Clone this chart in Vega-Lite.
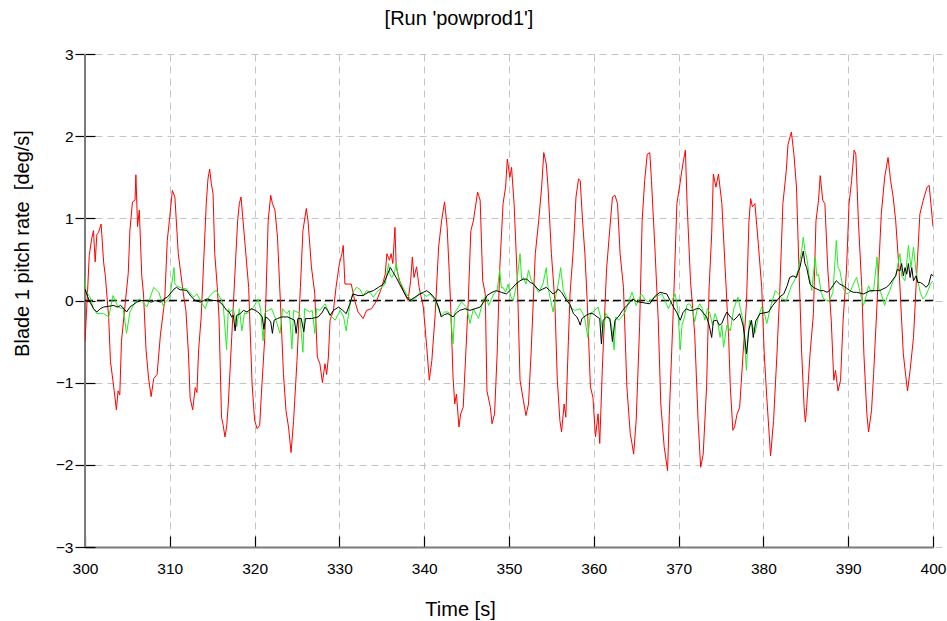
{
 "$schema": "https://vega.github.io/schema/vega-lite/v6.json",
 "width": 848, "height": 493,
 "autosize": "none",
 "padding": {"left": 85, "top": 54, "right": 14, "bottom": 74},
 "background": "white",
 "config": {
  "view": {"stroke": null},
  "font": "Liberation Sans",
  "axis": {"grid": true, "gridColor": "#c4c4c4", "gridDash": [7, 5], "gridWidth": 1,
   "labelFont": "Liberation Sans", "labelFontSize": 15.5, "labelColor": "black", "labelFlush": false,
   "titleFont": "Liberation Sans", "titleFontSize": 20, "titleFontWeight": "normal", "titleColor": "black",
   "tickColor": "black", "tickWidth": 1.2},
  "axisX": {"tickCount": 10, "tickSize": -11, "labelPadding": 25, "domainColor": "#7a7a7a", "domainWidth": 2,
   "titleX": 375, "titleY": 68, "titleAlign": "center", "titleBaseline": "alphabetic"},
  "axisY": {"tickCount": 6, "domain": false, "offset": -10, "tickSize": 20, "labelPadding": 2,
   "titleX": -67, "titleY": 189, "titleAngle": -90, "titleAlign": "center", "titleBaseline": "alphabetic"}
 },
 "title": {"text": "[Run 'powprod1']", "fontSize": 20, "fontWeight": "normal", "font": "Liberation Sans", "color": "black", "anchor": "middle", "frame": "group", "dx": -50, "baseline": "alphabetic", "offset": 2},
 "datasets": {
  "red": [
   {"t":300.0,"v":-0.5},{"t":300.3,"v":0.1},{"t":300.5,"v":0.55},{"t":300.8,"v":0.76},{"t":301.0,"v":0.85},{"t":301.2,"v":0.47},{"t":301.4,"v":0.8},{"t":301.6,"v":0.83},{"t":301.9,"v":0.93},{"t":302.2,"v":0.46},{"t":302.4,"v":0.3},{"t":302.8,"v":-0.22},{"t":303.0,"v":-0.74},{"t":303.3,"v":-0.98},{"t":303.5,"v":-1.15},{"t":303.7,"v":-1.33},{"t":303.9,"v":-1.1},{"t":304.1,"v":-1.15},{"t":304.3,"v":-0.5},{"t":304.7,"v":-0.08},{"t":305.1,"v":0.33},{"t":305.3,"v":0.86},{"t":305.6,"v":1.2},{"t":305.9,"v":1.22},{"t":306.0,"v":1.53},{"t":306.2,"v":0.9},{"t":306.4,"v":1.1},{"t":306.7,"v":0.29},{"t":306.9,"v":0.08},{"t":307.2,"v":-0.6},{"t":307.5,"v":-0.95},{"t":307.8,"v":-1.17},{"t":308.1,"v":-0.95},{"t":308.5,"v":-0.9},{"t":308.9,"v":-0.41},{"t":309.4,"v":0.0},{"t":309.7,"v":0.73},{"t":310.0,"v":1.02},{"t":310.3,"v":1.34},{"t":310.6,"v":1.26},{"t":311.0,"v":0.57},{"t":311.6,"v":0.08},{"t":311.9,"v":-0.12},{"t":312.2,"v":-0.65},{"t":312.4,"v":-1.19},{"t":312.7,"v":-1.33},{"t":313.0,"v":-1.06},{"t":313.2,"v":-1.12},{"t":313.4,"v":-0.6},{"t":313.7,"v":-0.2},{"t":313.95,"v":0.37},{"t":314.3,"v":1.18},{"t":314.5,"v":1.48},{"t":314.7,"v":1.6},{"t":314.9,"v":1.42},{"t":315.1,"v":1.3},{"t":315.3,"v":0.57},{"t":315.6,"v":0.16},{"t":315.8,"v":-0.2},{"t":316.1,"v":-1.42},{"t":316.3,"v":-1.52},{"t":316.5,"v":-1.66},{"t":316.7,"v":-1.54},{"t":316.9,"v":-1.26},{"t":317.3,"v":-0.45},{"t":317.7,"v":0.37},{"t":318.0,"v":0.97},{"t":318.2,"v":1.18},{"t":318.4,"v":1.26},{"t":318.9,"v":0.65},{"t":319.3,"v":0.16},{"t":319.7,"v":-1.01},{"t":320.0,"v":-1.46},{"t":320.3,"v":-1.56},{"t":320.6,"v":-1.52},{"t":320.8,"v":-1.14},{"t":321.2,"v":-0.45},{"t":321.6,"v":0.97},{"t":321.9,"v":1.28},{"t":322.1,"v":1.18},{"t":322.4,"v":1.1},{"t":322.7,"v":0.77},{"t":323.0,"v":0.08},{"t":323.4,"v":-0.89},{"t":323.7,"v":-1.34},{"t":324.0,"v":-1.54},{"t":324.3,"v":-1.85},{"t":324.6,"v":-1.46},{"t":325.0,"v":-0.73},{"t":325.4,"v":0.16},{"t":325.7,"v":0.85},{"t":326.1,"v":1.12},{"t":326.3,"v":0.97},{"t":326.7,"v":0.41},{"t":327.1,"v":0.08},{"t":327.4,"v":-0.69},{"t":327.7,"v":-0.77},{"t":328.0,"v":-1.0},{"t":328.3,"v":-0.77},{"t":328.5,"v":-0.9},{"t":328.7,"v":-0.69},{"t":328.9,"v":-0.24},{"t":329.3,"v":-0.12},{"t":329.6,"v":0.16},{"t":330.0,"v":0.45},{"t":330.3,"v":0.57},{"t":330.45,"v":0.67},{"t":330.65,"v":0.2},{"t":331.4,"v":0.2},{"t":331.8,"v":0.0},{"t":332.2,"v":-0.14},{"t":332.8,"v":-0.22},{"t":333.2,"v":-0.12},{"t":333.8,"v":-0.1},{"t":334.4,"v":0.0},{"t":335.0,"v":0.16},{"t":335.4,"v":0.32},{"t":335.6,"v":0.57},{"t":335.9,"v":0.49},{"t":336.1,"v":0.57},{"t":336.3,"v":0.45},{"t":336.55,"v":0.89},{"t":336.7,"v":0.41},{"t":337.1,"v":0.24},{"t":337.7,"v":0.08},{"t":338.1,"v":0.0},{"t":338.4,"v":0.24},{"t":338.6,"v":0.53},{"t":338.8,"v":0.28},{"t":339.1,"v":0.41},{"t":339.4,"v":0.16},{"t":339.9,"v":-0.08},{"t":340.3,"v":-0.57},{"t":340.6,"v":-0.97},{"t":340.9,"v":-0.73},{"t":341.3,"v":-0.16},{"t":341.7,"v":0.65},{"t":342.05,"v":0.97},{"t":342.4,"v":1.2},{"t":342.7,"v":0.9},{"t":342.95,"v":0.35},{"t":343.1,"v":0.0},{"t":343.4,"v":-0.93},{"t":343.6,"v":-1.26},{"t":343.8,"v":-1.14},{"t":344.1,"v":-1.54},{"t":344.3,"v":-1.38},{"t":344.6,"v":-1.3},{"t":344.9,"v":-0.65},{"t":345.2,"v":0.0},{"t":345.5,"v":0.85},{"t":345.8,"v":0.97},{"t":346.3,"v":1.32},{"t":346.6,"v":1.22},{"t":346.9,"v":0.24},{"t":347.2,"v":0.08},{"t":347.4,"v":-1.1},{"t":347.8,"v":-1.3},{"t":348.0,"v":-1.5},{"t":348.3,"v":-1.38},{"t":348.6,"v":-0.65},{"t":348.9,"v":0.37},{"t":349.3,"v":1.18},{"t":349.6,"v":1.38},{"t":349.8,"v":1.72},{"t":350.1,"v":1.5},{"t":350.3,"v":1.62},{"t":350.6,"v":1.18},{"t":351.0,"v":0.2},{"t":351.3,"v":-0.97},{"t":351.7,"v":-1.22},{"t":352.0,"v":-1.4},{"t":352.3,"v":-1.26},{"t":352.6,"v":-0.65},{"t":353.1,"v":0.57},{"t":353.5,"v":0.97},{"t":353.85,"v":1.38},{"t":354.1,"v":1.8},{"t":354.4,"v":1.66},{"t":354.6,"v":1.38},{"t":355.0,"v":0.57},{"t":355.4,"v":0.0},{"t":355.7,"v":-0.97},{"t":356.0,"v":-1.46},{"t":356.2,"v":-1.6},{"t":356.5,"v":-1.26},{"t":356.7,"v":-1.42},{"t":357.0,"v":-0.5},{"t":357.2,"v":0.08},{"t":357.6,"v":0.65},{"t":357.9,"v":1.26},{"t":358.2,"v":1.48},{"t":358.4,"v":1.46},{"t":358.7,"v":0.93},{"t":358.95,"v":0.57},{"t":359.2,"v":0.04},{"t":359.6,"v":-1.05},{"t":359.9,"v":-1.18},{"t":360.2,"v":-1.66},{"t":360.5,"v":-1.38},{"t":360.7,"v":-1.74},{"t":361.0,"v":-0.85},{"t":361.5,"v":0.37},{"t":361.9,"v":0.89},{"t":362.2,"v":1.26},{"t":362.5,"v":1.28},{"t":362.8,"v":1.18},{"t":363.1,"v":0.57},{"t":363.5,"v":0.16},{"t":363.9,"v":-1.05},{"t":364.3,"v":-1.62},{"t":364.5,"v":-1.74},{"t":364.7,"v":-1.87},{"t":365.0,"v":-1.46},{"t":365.4,"v":-0.32},{"t":365.7,"v":0.97},{"t":366.0,"v":1.46},{"t":366.3,"v":1.78},{"t":366.6,"v":1.8},{"t":366.8,"v":1.46},{"t":367.2,"v":0.65},{"t":367.6,"v":-0.24},{"t":367.9,"v":-1.26},{"t":368.3,"v":-1.78},{"t":368.7,"v":-2.07},{"t":368.9,"v":-1.4},{"t":369.4,"v":-0.04},{"t":369.8,"v":1.18},{"t":370.1,"v":1.38},{"t":370.5,"v":1.66},{"t":370.8,"v":1.83},{"t":371.0,"v":1.18},{"t":371.4,"v":0.24},{"t":371.9,"v":-0.41},{"t":372.3,"v":-1.46},{"t":372.6,"v":-2.03},{"t":372.9,"v":-1.87},{"t":373.3,"v":-1.05},{"t":373.6,"v":0.16},{"t":373.9,"v":0.81},{"t":374.1,"v":1.54},{"t":374.4,"v":1.38},{"t":374.7,"v":1.54},{"t":375.1,"v":1.18},{"t":375.5,"v":0.37},{"t":375.9,"v":-0.45},{"t":376.1,"v":-1.05},{"t":376.4,"v":-1.58},{"t":376.6,"v":-1.54},{"t":376.9,"v":-1.38},{"t":377.2,"v":-1.3},{"t":377.6,"v":-0.65},{"t":378.0,"v":-0.04},{"t":378.3,"v":0.97},{"t":378.5,"v":1.24},{"t":378.7,"v":1.14},{"t":379.0,"v":1.18},{"t":379.4,"v":0.69},{"t":379.8,"v":0.16},{"t":380.1,"v":-0.65},{"t":380.4,"v":-1.18},{"t":380.7,"v":-1.66},{"t":380.85,"v":-1.89},{"t":381.2,"v":-1.46},{"t":381.6,"v":-0.65},{"t":381.95,"v":0.16},{"t":382.3,"v":1.18},{"t":382.7,"v":1.58},{"t":382.9,"v":1.9},{"t":383.3,"v":2.05},{"t":383.6,"v":1.78},{"t":383.9,"v":1.38},{"t":384.2,"v":0.37},{"t":384.5,"v":-0.6},{"t":384.8,"v":-1.3},{"t":384.95,"v":-1.48},{"t":385.1,"v":-1.3},{"t":385.5,"v":-0.65},{"t":385.9,"v":-0.16},{"t":386.2,"v":0.97},{"t":386.5,"v":1.22},{"t":386.7,"v":1.52},{"t":387.0,"v":1.22},{"t":387.25,"v":1.18},{"t":387.6,"v":0.37},{"t":388.0,"v":-0.24},{"t":388.3,"v":-0.97},{"t":388.5,"v":-0.85},{"t":388.8,"v":-1.1},{"t":389.1,"v":-0.97},{"t":389.4,"v":-0.24},{"t":389.8,"v":0.37},{"t":390.1,"v":1.18},{"t":390.4,"v":1.46},{"t":390.7,"v":1.83},{"t":390.9,"v":1.78},{"t":391.2,"v":0.97},{"t":391.6,"v":0.16},{"t":391.85,"v":-0.65},{"t":392.2,"v":-1.38},{"t":392.4,"v":-1.6},{"t":392.75,"v":-1.34},{"t":393.0,"v":-0.89},{"t":393.4,"v":-0.04},{"t":393.9,"v":1.05},{"t":394.3,"v":1.5},{"t":394.7,"v":1.74},{"t":395.0,"v":1.46},{"t":395.3,"v":1.26},{"t":395.6,"v":0.97},{"t":396.0,"v":0.37},{"t":396.5,"v":-0.65},{"t":396.8,"v":-0.93},{"t":397.0,"v":-1.1},{"t":397.3,"v":-0.85},{"t":397.7,"v":-0.45},{"t":398.1,"v":0.37},{"t":398.45,"v":1.05},{"t":398.85,"v":1.22},{"t":399.3,"v":1.38},{"t":399.55,"v":1.4},{"t":399.75,"v":1.18},{"t":400.0,"v":0.9}
  ],
  "green": [
   {"t":300.0,"v":0.3},{"t":300.1,"v":0.12},{"t":300.6,"v":0.04},{"t":301.0,"v":-0.1},{"t":301.4,"v":-0.16},{"t":302.2,"v":-0.16},{"t":302.8,"v":-0.2},{"t":303.3,"v":0.06},{"t":303.9,"v":-0.08},{"t":304.5,"v":-0.1},{"t":304.9,"v":-0.4},{"t":305.3,"v":-0.14},{"t":305.9,"v":-0.02},{"t":306.5,"v":0.02},{"t":307.3,"v":-0.08},{"t":308.1,"v":0.16},{"t":308.7,"v":0.1},{"t":309.2,"v":-0.06},{"t":310.0,"v":0.04},{"t":310.5,"v":0.4},{"t":310.6,"v":0.2},{"t":310.8,"v":0.18},{"t":311.4,"v":0.15},{"t":312.0,"v":0.14},{"t":312.8,"v":0.04},{"t":313.2,"v":0.08},{"t":313.6,"v":0.0},{"t":314.2,"v":-0.1},{"t":314.6,"v":0.04},{"t":315.1,"v":0.1},{"t":315.5,"v":0.12},{"t":315.9,"v":0.04},{"t":316.3,"v":-0.05},{"t":316.7,"v":-0.6},{"t":316.9,"v":-0.1},{"t":317.1,"v":-0.14},{"t":317.5,"v":-0.1},{"t":317.9,"v":-0.32},{"t":318.2,"v":-0.1},{"t":318.5,"v":-0.37},{"t":318.8,"v":-0.15},{"t":319.1,"v":-0.16},{"t":319.9,"v":-0.08},{"t":320.4,"v":0.02},{"t":320.7,"v":-0.1},{"t":321.0,"v":-0.49},{"t":321.2,"v":-0.15},{"t":321.6,"v":-0.12},{"t":322.0,"v":-0.1},{"t":322.4,"v":-0.2},{"t":323.0,"v":-0.4},{"t":323.3,"v":-0.1},{"t":323.8,"v":-0.16},{"t":324.1,"v":-0.12},{"t":324.4,"v":-0.59},{"t":324.6,"v":-0.12},{"t":325.0,"v":-0.14},{"t":325.3,"v":-0.15},{"t":325.7,"v":-0.63},{"t":325.9,"v":-0.1},{"t":326.5,"v":-0.14},{"t":326.8,"v":-0.12},{"t":327.1,"v":-0.4},{"t":327.3,"v":-0.1},{"t":327.7,"v":-0.12},{"t":328.3,"v":-0.04},{"t":328.9,"v":-0.18},{"t":329.5,"v":-0.24},{"t":330.1,"v":-0.12},{"t":330.5,"v":-0.2},{"t":330.8,"v":-0.37},{"t":331.2,"v":-0.08},{"t":331.6,"v":0.1},{"t":332.0,"v":0.16},{"t":332.4,"v":0.14},{"t":332.8,"v":0.06},{"t":333.2,"v":0.12},{"t":333.6,"v":0.1},{"t":334.0,"v":0.04},{"t":334.4,"v":0.1},{"t":334.8,"v":0.14},{"t":335.4,"v":0.2},{"t":335.8,"v":0.45},{"t":336.0,"v":0.3},{"t":336.2,"v":0.28},{"t":336.5,"v":0.35},{"t":336.7,"v":0.45},{"t":337.0,"v":0.25},{"t":337.3,"v":0.2},{"t":337.9,"v":0.08},{"t":338.5,"v":0.0},{"t":339.1,"v":0.04},{"t":339.5,"v":0.1},{"t":339.9,"v":0.08},{"t":340.3,"v":0.05},{"t":340.7,"v":0.08},{"t":341.3,"v":0.0},{"t":342.0,"v":-0.18},{"t":342.4,"v":-0.14},{"t":342.8,"v":-0.14},{"t":343.1,"v":-0.16},{"t":343.4,"v":-0.53},{"t":343.6,"v":-0.15},{"t":343.8,"v":-0.12},{"t":344.4,"v":-0.02},{"t":345.0,"v":-0.08},{"t":345.4,"v":-0.28},{"t":345.8,"v":-0.1},{"t":346.4,"v":-0.22},{"t":347.0,"v":0.02},{"t":347.3,"v":0.05},{"t":347.6,"v":-0.06},{"t":348.2,"v":0.08},{"t":348.6,"v":0.12},{"t":348.9,"v":0.37},{"t":349.1,"v":0.15},{"t":349.3,"v":0.16},{"t":349.6,"v":0.1},{"t":349.9,"v":0.2},{"t":350.2,"v":0.05},{"t":350.5,"v":0.0},{"t":350.9,"v":0.2},{"t":351.3,"v":0.57},{"t":351.5,"v":0.25},{"t":351.7,"v":0.28},{"t":352.0,"v":0.2},{"t":352.3,"v":0.37},{"t":352.6,"v":0.25},{"t":352.9,"v":0.2},{"t":353.5,"v":0.1},{"t":354.0,"v":0.2},{"t":354.4,"v":0.4},{"t":354.6,"v":0.16},{"t":355.2,"v":-0.14},{"t":355.5,"v":0.05},{"t":355.8,"v":0.2},{"t":356.1,"v":0.4},{"t":356.4,"v":0.12},{"t":357.0,"v":-0.02},{"t":357.4,"v":-0.1},{"t":357.8,"v":-0.12},{"t":358.4,"v":-0.1},{"t":358.9,"v":-0.2},{"t":359.3,"v":-0.45},{"t":359.6,"v":-0.15},{"t":359.9,"v":-0.14},{"t":360.5,"v":-0.08},{"t":360.8,"v":-0.2},{"t":361.1,"v":-0.4},{"t":361.4,"v":-0.15},{"t":361.7,"v":-0.2},{"t":362.1,"v":-0.3},{"t":362.4,"v":-0.6},{"t":362.6,"v":-0.2},{"t":362.9,"v":-0.24},{"t":363.3,"v":-0.2},{"t":363.7,"v":-0.14},{"t":364.1,"v":-0.02},{"t":364.5,"v":0.1},{"t":365.0,"v":-0.06},{"t":365.6,"v":0.08},{"t":366.0,"v":0.02},{"t":366.4,"v":-0.02},{"t":367.2,"v":0.04},{"t":368.0,"v":0.08},{"t":368.4,"v":0.0},{"t":368.8,"v":-0.1},{"t":369.2,"v":0.0},{"t":369.6,"v":0.08},{"t":369.9,"v":-0.1},{"t":370.2,"v":-0.6},{"t":370.4,"v":-0.3},{"t":370.7,"v":-0.2},{"t":371.0,"v":-0.05},{"t":371.3,"v":-0.04},{"t":371.6,"v":-0.1},{"t":371.9,"v":-0.26},{"t":372.2,"v":-0.1},{"t":372.5,"v":-0.04},{"t":372.8,"v":-0.1},{"t":373.1,"v":-0.24},{"t":373.4,"v":-0.1},{"t":373.7,"v":-0.16},{"t":374.0,"v":-0.3},{"t":374.3,"v":-0.16},{"t":374.6,"v":-0.25},{"t":374.9,"v":-0.45},{"t":375.1,"v":-0.3},{"t":375.3,"v":-0.57},{"t":375.7,"v":-0.3},{"t":376.1,"v":-0.37},{"t":376.5,"v":-0.1},{"t":377.0,"v":0.04},{"t":377.3,"v":-0.1},{"t":377.6,"v":-0.24},{"t":378.0,"v":-0.85},{"t":378.2,"v":-0.4},{"t":378.4,"v":-0.24},{"t":378.7,"v":-0.3},{"t":379.0,"v":-0.4},{"t":379.4,"v":-0.2},{"t":379.8,"v":-0.08},{"t":380.1,"v":-0.15},{"t":380.4,"v":-0.28},{"t":380.8,"v":-0.1},{"t":381.4,"v":0.12},{"t":381.8,"v":0.08},{"t":382.2,"v":0.02},{"t":382.7,"v":0.0},{"t":383.3,"v":0.18},{"t":383.7,"v":0.25},{"t":384.1,"v":0.37},{"t":384.5,"v":0.6},{"t":384.7,"v":0.77},{"t":384.9,"v":0.6},{"t":385.1,"v":0.53},{"t":385.4,"v":0.3},{"t":385.7,"v":0.12},{"t":386.1,"v":0.53},{"t":386.3,"v":0.3},{"t":386.5,"v":0.32},{"t":386.8,"v":0.1},{"t":387.1,"v":0.02},{"t":387.5,"v":0.0},{"t":387.8,"v":0.0},{"t":388.2,"v":0.1},{"t":388.6,"v":0.73},{"t":388.8,"v":0.4},{"t":389.0,"v":0.37},{"t":389.4,"v":0.15},{"t":389.8,"v":0.08},{"t":390.2,"v":0.1},{"t":390.6,"v":0.2},{"t":391.0,"v":0.28},{"t":391.4,"v":0.1},{"t":391.8,"v":-0.06},{"t":392.1,"v":0.05},{"t":392.4,"v":0.18},{"t":392.7,"v":0.1},{"t":393.0,"v":0.12},{"t":393.4,"v":0.53},{"t":393.6,"v":0.15},{"t":393.9,"v":0.08},{"t":394.3,"v":-0.06},{"t":394.6,"v":0.05},{"t":394.9,"v":0.12},{"t":395.3,"v":0.24},{"t":395.6,"v":0.3},{"t":396.1,"v":0.57},{"t":396.3,"v":0.3},{"t":396.7,"v":0.24},{"t":397.1,"v":0.67},{"t":397.4,"v":0.4},{"t":397.7,"v":0.65},{"t":398.0,"v":0.35},{"t":398.2,"v":0.24},{"t":398.5,"v":0.1},{"t":398.8,"v":0.02},{"t":399.1,"v":0.05},{"t":399.4,"v":0.12},{"t":399.7,"v":0.2},{"t":400.0,"v":0.24}
  ],
  "black": [
   {"t":300.0,"v":0.14},{"t":300.3,"v":0.05},{"t":300.6,"v":-0.02},{"t":301.0,"v":-0.1},{"t":301.4,"v":-0.14},{"t":301.8,"v":-0.1},{"t":302.2,"v":-0.08},{"t":302.8,"v":-0.07},{"t":303.4,"v":-0.06},{"t":303.8,"v":-0.08},{"t":304.2,"v":-0.06},{"t":304.6,"v":-0.1},{"t":304.9,"v":-0.14},{"t":305.3,"v":-0.08},{"t":305.7,"v":-0.05},{"t":306.1,"v":-0.02},{"t":306.7,"v":0.0},{"t":307.3,"v":0.0},{"t":307.8,"v":-0.02},{"t":308.3,"v":0.0},{"t":308.9,"v":-0.02},{"t":309.3,"v":0.02},{"t":309.7,"v":0.04},{"t":310.2,"v":0.1},{"t":310.5,"v":0.14},{"t":310.8,"v":0.16},{"t":311.2,"v":0.13},{"t":311.6,"v":0.13},{"t":312.0,"v":0.12},{"t":312.5,"v":0.05},{"t":313.0,"v":0.0},{"t":313.6,"v":-0.02},{"t":314.0,"v":0.0},{"t":314.4,"v":0.02},{"t":315.0,"v":0.0},{"t":315.5,"v":0.0},{"t":315.9,"v":-0.02},{"t":316.3,"v":-0.06},{"t":316.7,"v":-0.12},{"t":317.0,"v":-0.14},{"t":317.3,"v":-0.2},{"t":317.5,"v":-0.18},{"t":317.7,"v":-0.37},{"t":317.9,"v":-0.18},{"t":318.3,"v":-0.16},{"t":318.7,"v":-0.12},{"t":319.1,"v":-0.14},{"t":319.6,"v":-0.1},{"t":320.1,"v":-0.12},{"t":320.5,"v":-0.15},{"t":320.9,"v":-0.2},{"t":321.1,"v":-0.35},{"t":321.3,"v":-0.2},{"t":321.6,"v":-0.22},{"t":321.9,"v":-0.26},{"t":322.1,"v":-0.4},{"t":322.3,"v":-0.24},{"t":322.7,"v":-0.22},{"t":323.2,"v":-0.2},{"t":323.6,"v":-0.2},{"t":323.9,"v":-0.2},{"t":324.3,"v":-0.22},{"t":324.7,"v":-0.24},{"t":324.9,"v":-0.4},{"t":325.1,"v":-0.22},{"t":325.5,"v":-0.22},{"t":325.8,"v":-0.38},{"t":326.0,"v":-0.22},{"t":326.4,"v":-0.22},{"t":326.7,"v":-0.22},{"t":327.1,"v":-0.21},{"t":327.5,"v":-0.2},{"t":328.0,"v":-0.14},{"t":328.3,"v":-0.08},{"t":328.6,"v":-0.12},{"t":328.9,"v":-0.18},{"t":329.3,"v":-0.12},{"t":329.9,"v":-0.08},{"t":330.4,"v":-0.12},{"t":330.8,"v":-0.16},{"t":331.2,"v":-0.05},{"t":331.6,"v":0.08},{"t":332.2,"v":0.06},{"t":332.8,"v":0.06},{"t":333.4,"v":0.1},{"t":334.0,"v":0.12},{"t":334.6,"v":0.16},{"t":335.2,"v":0.2},{"t":335.6,"v":0.3},{"t":336.0,"v":0.4},{"t":336.3,"v":0.35},{"t":336.7,"v":0.28},{"t":337.1,"v":0.2},{"t":337.5,"v":0.12},{"t":337.9,"v":0.05},{"t":338.3,"v":0.0},{"t":338.9,"v":0.04},{"t":339.5,"v":0.08},{"t":339.9,"v":0.1},{"t":340.3,"v":0.12},{"t":340.8,"v":0.08},{"t":341.3,"v":0.02},{"t":341.7,"v":-0.08},{"t":342.0,"v":-0.2},{"t":342.4,"v":-0.17},{"t":342.8,"v":-0.16},{"t":343.4,"v":-0.2},{"t":343.8,"v":-0.15},{"t":344.2,"v":-0.12},{"t":344.8,"v":-0.1},{"t":345.4,"v":-0.12},{"t":346.0,"v":-0.1},{"t":346.6,"v":-0.08},{"t":347.0,"v":-0.02},{"t":347.4,"v":0.06},{"t":348.0,"v":0.1},{"t":348.5,"v":0.12},{"t":349.1,"v":0.1},{"t":349.7,"v":0.08},{"t":350.3,"v":0.14},{"t":350.8,"v":0.2},{"t":351.3,"v":0.24},{"t":351.7,"v":0.26},{"t":352.1,"v":0.26},{"t":352.5,"v":0.22},{"t":352.9,"v":0.2},{"t":353.3,"v":0.15},{"t":353.6,"v":0.12},{"t":354.0,"v":0.14},{"t":354.4,"v":0.16},{"t":354.8,"v":0.12},{"t":355.2,"v":0.08},{"t":355.5,"v":0.1},{"t":355.8,"v":0.14},{"t":356.2,"v":0.1},{"t":356.8,"v":0.0},{"t":357.2,"v":-0.05},{"t":357.6,"v":-0.16},{"t":358.0,"v":-0.2},{"t":358.2,"v":-0.24},{"t":358.4,"v":-0.3},{"t":358.6,"v":-0.22},{"t":359.1,"v":-0.18},{"t":359.5,"v":-0.16},{"t":359.9,"v":-0.16},{"t":360.4,"v":-0.2},{"t":360.7,"v":-0.22},{"t":360.9,"v":-0.53},{"t":361.1,"v":-0.24},{"t":361.5,"v":-0.2},{"t":361.9,"v":-0.22},{"t":362.2,"v":-0.5},{"t":362.5,"v":-0.24},{"t":362.9,"v":-0.2},{"t":363.4,"v":-0.12},{"t":363.9,"v":-0.06},{"t":364.3,"v":-0.02},{"t":364.6,"v":0.02},{"t":365.0,"v":-0.01},{"t":365.4,"v":-0.02},{"t":366.0,"v":-0.03},{"t":366.6,"v":-0.04},{"t":367.2,"v":0.05},{"t":367.8,"v":0.1},{"t":368.2,"v":0.09},{"t":368.6,"v":0.08},{"t":369.0,"v":0.0},{"t":369.4,"v":-0.08},{"t":369.8,"v":-0.15},{"t":370.2,"v":-0.24},{"t":370.5,"v":-0.15},{"t":370.9,"v":-0.1},{"t":371.3,"v":-0.12},{"t":371.7,"v":-0.12},{"t":372.1,"v":-0.1},{"t":372.5,"v":-0.1},{"t":372.9,"v":-0.15},{"t":373.3,"v":-0.2},{"t":373.6,"v":-0.3},{"t":373.9,"v":-0.45},{"t":374.1,"v":-0.25},{"t":374.5,"v":-0.24},{"t":374.8,"v":-0.3},{"t":375.1,"v":-0.28},{"t":375.4,"v":-0.2},{"t":375.7,"v":-0.14},{"t":376.1,"v":-0.2},{"t":376.5,"v":-0.24},{"t":376.9,"v":-0.2},{"t":377.2,"v":-0.16},{"t":377.6,"v":-0.3},{"t":377.8,"v":-0.45},{"t":378.0,"v":-0.65},{"t":378.3,"v":-0.35},{"t":378.6,"v":-0.24},{"t":378.8,"v":-0.45},{"t":379.1,"v":-0.25},{"t":379.6,"v":-0.16},{"t":380.1,"v":-0.15},{"t":380.6,"v":-0.14},{"t":381.1,"v":-0.06},{"t":381.6,"v":0.0},{"t":382.0,"v":0.05},{"t":382.4,"v":0.08},{"t":382.8,"v":0.18},{"t":383.1,"v":0.28},{"t":383.5,"v":0.3},{"t":383.9,"v":0.28},{"t":384.1,"v":0.35},{"t":384.3,"v":0.4},{"t":384.5,"v":0.5},{"t":384.7,"v":0.6},{"t":384.9,"v":0.45},{"t":385.1,"v":0.4},{"t":385.3,"v":0.3},{"t":385.5,"v":0.2},{"t":385.9,"v":0.16},{"t":386.3,"v":0.14},{"t":386.7,"v":0.12},{"t":387.1,"v":0.12},{"t":387.5,"v":0.1},{"t":387.8,"v":0.12},{"t":388.2,"v":0.18},{"t":388.6,"v":0.24},{"t":389.0,"v":0.2},{"t":389.4,"v":0.18},{"t":389.8,"v":0.15},{"t":390.2,"v":0.12},{"t":390.6,"v":0.1},{"t":391.0,"v":0.1},{"t":391.4,"v":0.09},{"t":391.8,"v":0.08},{"t":392.2,"v":0.1},{"t":392.6,"v":0.12},{"t":393.2,"v":0.12},{"t":393.7,"v":0.12},{"t":394.1,"v":0.14},{"t":394.5,"v":0.16},{"t":394.9,"v":0.2},{"t":395.3,"v":0.26},{"t":395.6,"v":0.3},{"t":395.8,"v":0.38},{"t":396.1,"v":0.36},{"t":396.3,"v":0.45},{"t":396.5,"v":0.3},{"t":396.7,"v":0.4},{"t":396.9,"v":0.32},{"t":397.1,"v":0.45},{"t":397.3,"v":0.28},{"t":397.5,"v":0.4},{"t":397.7,"v":0.24},{"t":398.0,"v":0.3},{"t":398.2,"v":0.22},{"t":398.5,"v":0.22},{"t":398.8,"v":0.2},{"t":399.2,"v":0.16},{"t":399.5,"v":0.2},{"t":399.8,"v":0.32},{"t":400.0,"v":0.3}
  ]
 },
 "layer": [
  {"data": {"values": [{}]},
   "mark": {"type": "rule", "color": "#7a7a7a", "strokeWidth": 2},
   "encoding": {"x": {"datum": 300, "type": "quantitative", "scale": {"domain": [300, 400], "nice": false}, "title": "Time [s]"}}},
  {"data": {"values": [{}]},
   "mark": {"type": "rule", "color": "black", "strokeWidth": 1.3, "strokeDash": [8, 4]},
   "encoding": {"y": {"datum": 0, "type": "quantitative", "scale": {"domain": [-3, 3], "nice": false}, "title": "Blade 1 pitch rate\u00a0\u00a0[deg/s]"}}},
  {"data": {"name": "red"},
   "mark": {"type": "line", "color": "#ff0000", "strokeWidth": 1, "clip": true},
   "encoding": {"x": {"field": "t", "type": "quantitative", "title": "Time [s]"}, "y": {"field": "v", "type": "quantitative", "title": "Blade 1 pitch rate\u00a0\u00a0[deg/s]"}}},
  {"data": {"name": "green"},
   "mark": {"type": "line", "color": "#22ee22", "strokeWidth": 1, "clip": true},
   "encoding": {"x": {"field": "t", "type": "quantitative", "title": "Time [s]"}, "y": {"field": "v", "type": "quantitative", "title": "Blade 1 pitch rate\u00a0\u00a0[deg/s]"}}},
  {"data": {"name": "black"},
   "mark": {"type": "line", "color": "black", "strokeWidth": 1, "clip": true},
   "encoding": {"x": {"field": "t", "type": "quantitative", "title": "Time [s]"}, "y": {"field": "v", "type": "quantitative", "title": "Blade 1 pitch rate\u00a0\u00a0[deg/s]"}}}
 ]
}
